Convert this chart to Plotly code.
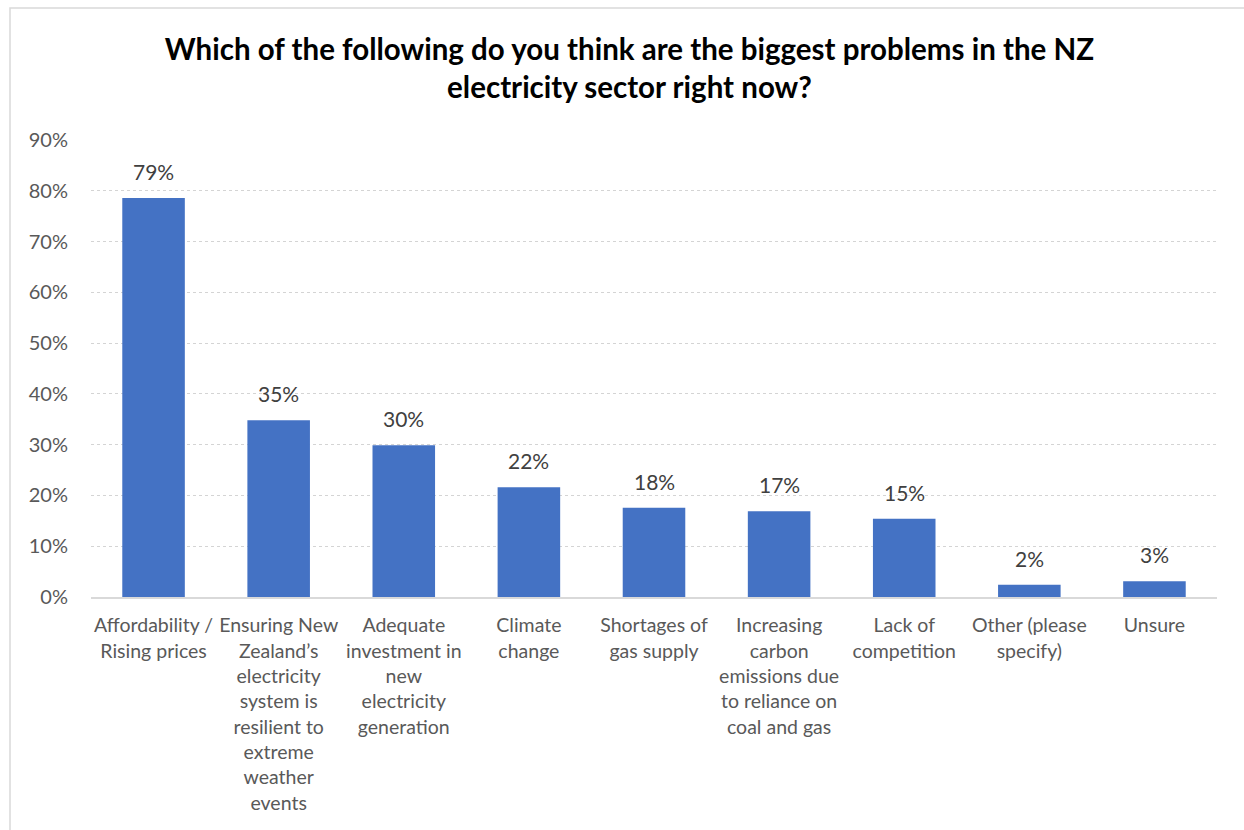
import plotly.graph_objects as go

categories = [
    "Affordability /<br>Rising prices",
    "Ensuring New<br>Zealand’s<br>electricity<br>system is<br>resilient to<br>extreme<br>weather<br>events",
    "Adequate<br>investment in<br>new<br>electricity<br>generation",
    "Climate<br>change",
    "Shortages of<br>gas supply",
    "Increasing<br>carbon<br>emissions due<br>to reliance on<br>coal and gas",
    "Lack of<br>competition",
    "Other (please<br>specify)",
    "Unsure",
]
shares = [0.786, 0.348, 0.299, 0.216, 0.176, 0.169, 0.154, 0.024, 0.031]
tick_vals = [0, 0.1, 0.2, 0.3, 0.4, 0.5, 0.6, 0.7, 0.8, 0.9]
tick_text = ["0%", "10%", "20%", "30%", "40%", "50%", "60%", "70%", "80%", "90%"]

FONT = "Lato, Calibri, Carlito, sans-serif"
GREY = "#595959"

fig = go.Figure(
    go.Bar(
        x=categories,
        y=shares,
        marker=dict(color="#4472C4", line=dict(width=0)),
        width=0.5,
        hoverinfo="x+y",
    )
)

# value labels sitting above each bar
for cat, v in zip(categories, shares):
    fig.add_annotation(
        x=cat,
        y=v,
        text=f"{round(v * 100)}%",
        showarrow=False,
        yanchor="bottom",
        yshift=12,
        font=dict(family=FONT, size=21, color="#404040"),
    )

fig.update_layout(
    width=1244,
    height=830,
    margin=dict(l=91, r=27, t=140, b=233),
    paper_bgcolor="white",
    plot_bgcolor="white",
    showlegend=False,
    font=dict(family=FONT, color=GREY),
    title=dict(
        text="<b>Which of the following do you think are the biggest problems in the NZ<br>electricity sector right now?</b>",
        x=0.506,
        xanchor="center",
        yref="container",
        y=1 - 60 / 830,
        yanchor="top",
        font=dict(family=FONT, size=29.5, color="black"),
        automargin=False,
    ),
    xaxis=dict(
        tickfont=dict(family=FONT, size=19.5, color=GREY),
        showline=True,
        linecolor="#d9d9d9",
        linewidth=1.5,
        ticks="",
        tickangle=0,
        showgrid=False,
        ticklabelstandoff=10,
    ),
    yaxis=dict(
        range=[0, 0.9],
        tickvals=tick_vals,
        ticktext=tick_text,
        tickfont=dict(family=FONT, size=20, color=GREY),
        showgrid=True,
        gridcolor="#d4d4d4",
        griddash="dot",
        gridwidth=1,
        zeroline=False,
        showline=False,
        ticks="",
        ticklabelstandoff=22,
    ),
    shapes=[
        dict(
            type="rect",
            xref="paper",
            yref="paper",
            x0=-81 / 1126,
            x1=1.05,
            y0=-0.6,
            y1=1 + 132 / 457,
            line=dict(color="#d9d9d9", width=1.5),
            fillcolor="rgba(0,0,0,0)",
            layer="below",
        )
    ],
)

fig.write_html("out.html")
